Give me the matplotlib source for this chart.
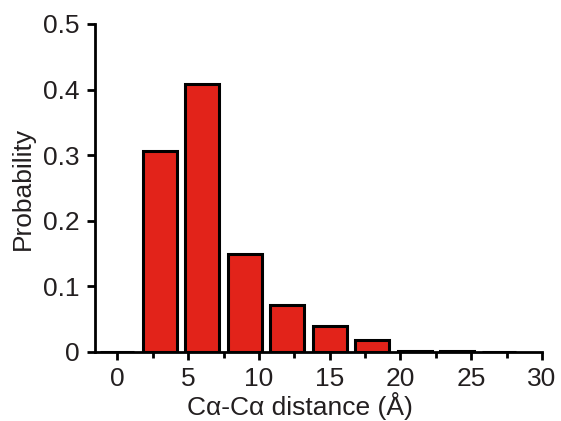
import matplotlib.pyplot as plt
from matplotlib.ticker import MultipleLocator

plt.rcParams['font.family'] = ['Liberation Sans', 'DejaVu Sans']

bin_centers = [0, 3, 6, 9, 12, 15, 18, 21, 24, 27]
probability = [0.0, 0.307, 0.409, 0.150, 0.071, 0.039, 0.018, 0.002, 0.001, 0.0005]

text_color = '#231f20'

fig = plt.figure(figsize=(5.61, 4.21), dpi=100)
ax = fig.add_axes([0.169, 0.164, 0.797, 0.779])

ax.bar(bin_centers, probability, width=2.4, color='#e2231a',
       edgecolor='black', linewidth=2.2, zorder=3)

ax.set_xlim(-1.6, 30)
ax.set_ylim(0, 0.5)
ax.set_xticks([0, 5, 10, 15, 20, 25, 30])
ax.set_yticks([0, 0.1, 0.2, 0.3, 0.4, 0.5])
ax.set_yticklabels(['0', '0.1', '0.2', '0.3', '0.4', '0.5'])
ax.xaxis.set_minor_locator(MultipleLocator(2.5))

for s in ['top', 'right']:
    ax.spines[s].set_visible(False)
for s in ['left', 'bottom']:
    ax.spines[s].set_linewidth(2.0)
    ax.spines[s].set_zorder(4)

ax.tick_params(axis='both', which='major', direction='out', length=6, width=2.0,
               labelsize=19, colors='black', labelcolor=text_color, pad=5)
ax.tick_params(axis='x', which='minor', direction='out', length=4, width=2.0)

ax.set_xlabel('Cα-Cα distance (Å)', fontsize=19, color=text_color)
ax.xaxis.set_label_coords(0.459, -0.122)
ax.set_ylabel('Probability', fontsize=19, color=text_color, labelpad=6)

fig.savefig('out.png', dpi=100)
